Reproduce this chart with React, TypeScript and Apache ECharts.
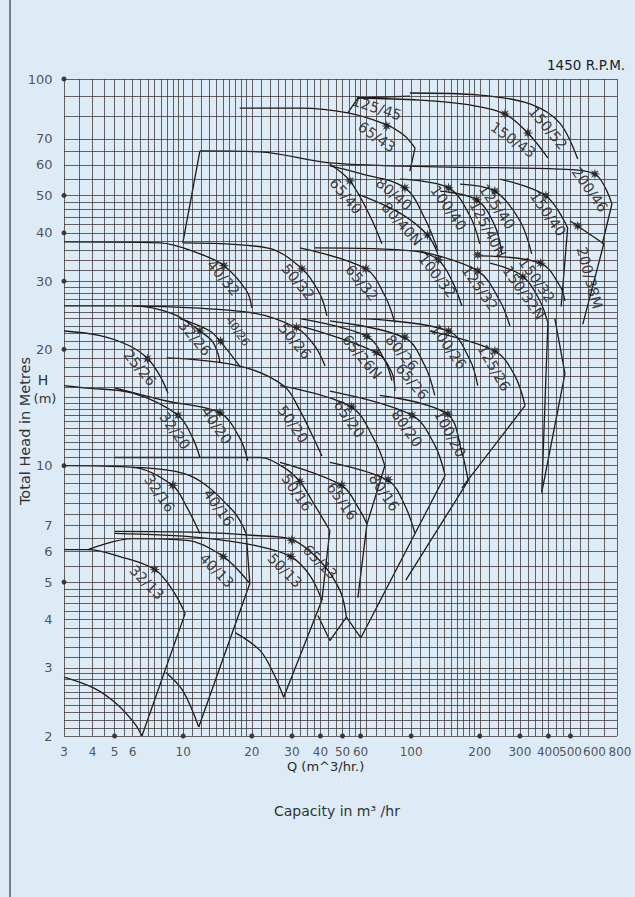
import React, { useEffect, useRef } from "react";
import * as echarts from "echarts";

// ---------- axes / grid ----------
const xTickLabels = [3, 4, 5, 6, 10, 20, 30, 40, 50, 60, 100, 200, 300, 400, 500, 600, 800];
const xTickDots = [5, 10, 20, 30, 40, 50, 60, 100, 200, 300, 400, 500];
const yTickLabels = [100, 70, 60, 50, 40, 30, 20, 10, 7, 6, 5, 4, 3, 2];
const yTickDots = [100, 50, 40, 30, 20, 10, 5];
const gridQ = [3, 3.5, 4, 4.5, 5, 5.5, 6, 6.5, 7, 7.5, 8, 8.5, 9, 9.5, 10, 11, 12, 13, 14, 15, 16, 17, 18, 19, 20, 22, 24, 26, 28, 30, 32.5, 35, 37.5, 40, 43.3, 46.7, 50, 53.3, 56.7, 60, 63.5, 70, 77, 84, 91, 100, 110, 120, 130, 140, 150, 160, 170, 180, 190, 200, 220, 240, 260, 280, 300, 325, 350, 375, 400, 433, 467, 500, 550, 600, 700, 800];
const gridH = [2, 2.1, 2.2, 2.3, 2.4, 2.5, 2.6, 2.7, 2.8, 2.9, 3, 3.2, 3.4, 3.6, 3.8, 4, 4.2, 4.4, 4.6, 4.8, 5, 5.5, 6, 6.5, 7, 7.5, 8, 8.5, 9, 9.5, 10, 10.5, 11, 11.5, 12, 12.5, 13, 13.5, 14, 14.5, 15, 16, 17, 18, 19, 20, 21, 22, 23, 24, 25, 26, 27, 28, 29, 30, 32, 34, 36, 38, 40, 42, 44, 46, 48, 50, 55, 60, 65, 70, 80, 90, 100];

// ---------- pump curves (Q m3/h, H m) ----------
const curve32_13 = [[3, 6.07], [3.82, 6.07], [5.28, 5.82], [7.51, 5.39], [9.0, 4.76], [10.2, 4.15]];
const base32_13 = [[6.59, 2.0], [6.14, 2.15], [5.07, 2.43], [4.06, 2.66], [3, 2.84]];
const edge32_13 = [[10.2, 4.15], [6.59, 2.0]];
const curve40_13 = [[3.82, 6.07], [6.02, 6.48], [10.4, 6.41], [15.0, 5.82], [19.6, 4.96]];
const edge40_13 = [[19.6, 4.96], [11.7, 2.11]];
const base40_13 = [[11.7, 2.11], [9.96, 2.62], [8.4, 2.92]];
const curve50_13 = [[5.02, 6.68], [11.84, 6.52], [20.6, 6.22], [29.7, 5.82], [36.0, 5.2], [40.6, 4.49]];
const edge50_13 = [[40.6, 4.49], [27.6, 2.52]];
const base50_13 = [[27.6, 2.52], [24.8, 2.92], [21.7, 3.33], [16.9, 3.7]];
const curve65_13 = [[5.02, 6.76], [11.84, 6.72], [20.6, 6.6], [29.7, 6.45], [39.8, 5.68], [48.7, 4.76], [52.0, 4.06]];
const base65_13 = [[52.0, 4.06], [44.0, 3.53], [39.0, 4.1]];

const curve32_16 = [[3, 10.0], [6.02, 9.9], [9.0, 8.88], [10.4, 7.79], [11.84, 6.68]];
const curve40_16 = [[6.02, 9.9], [10.7, 9.43], [16.5, 7.66], [18.9, 6.68]];
const edge40_16 = [[18.9, 6.68], [19.6, 4.96]];
const curve50_16 = [[5.02, 10.5], [21.7, 10.5], [27.6, 9.9], [32.5, 9.1], [36.7, 8.13], [44.0, 6.8]];
const edge50_16 = [[44.0, 6.8], [40.6, 4.49]];
const curve65_16 = [[26.6, 10.2], [49.7, 8.88], [59.6, 7.66], [64.0, 7.06]];
const edge65_16 = [[64.0, 7.06], [58.4, 4.56]];
const curve80_16 = [[44.0, 10.2], [79.3, 9.15], [93.9, 7.89], [104, 6.68]];
const edge80_16 = [[104, 6.68], [60.2, 3.59], [52.0, 4.06]];

const curve25_26 = [[3, 22.3], [4.32, 21.7], [5.84, 20.4], [7.0, 18.9], [7.9, 17.1], [8.58, 15.4]];
const curve32_20 = [[3, 16.1], [3.67, 15.9], [6.02, 15.4], [9.5, 13.5], [11.0, 11.8], [11.84, 10.5]];
const curve40_20 = [[5.02, 15.9], [8.45, 14.7], [14.5, 13.7], [17.7, 11.8], [19.2, 10.3]];
const curve50_20 = [[8.45, 19.0], [17.7, 18.1], [27.6, 16.1], [32.5, 13.9], [37.8, 11.6], [40.6, 10.6]];
const curve65_20 = [[26.6, 16.1], [54.5, 14.2], [69.3, 11.6], [76.7, 10.0]];
const edge65_20 = [[76.7, 10.0], [64.0, 7.06]];
const curve80_20 = [[44.0, 15.6], [101, 13.5], [127, 11.3], [141, 9.43]];
const edge80_20 = [[141, 9.43], [104, 6.68]];
const curve100_20 = [[72.9, 15.2], [144, 13.6], [167, 10.8], [178, 9.15]];
const edge100_20 = [[178, 9.15], [94.8, 5.06]];

const curve32_26 = [[3, 25.9], [6.02, 25.9], [9.0, 24.7], [11.84, 22.3], [13.4, 21.0], [14.2, 19.5], [14.5, 18.5]];
const curve40_26 = [[9.67, 24.0], [13.1, 22.3], [14.6, 20.9], [17.7, 18.1]];
const curve50_26 = [[6.02, 25.9], [19.6, 24.9], [31.5, 22.7], [37.8, 20.4], [41.9, 18.1]];
const curve65_26N = [[32.5, 24.0], [64.0, 21.6], [76.7, 18.7], [82.3, 16.6]];
const curve65_26 = [[32.5, 23.0], [70.5, 19.6], [82.3, 17.4], [84.9, 15.6]];
const curve80_26 = [[44.0, 23.7], [93.9, 21.4], [115, 18.1], [127, 15.2]];
const curve100_26 = [[59.6, 24.0], [146, 22.3], [181, 18.8], [196, 16.1]];
const curve125_26 = [[121, 22.3], [233, 19.8], [285, 17.1], [316, 14.3]];
const edge125_26 = [[316, 14.3], [167, 8.76]];

const curve40_32 = [[3, 37.9], [7.9, 37.7], [11.84, 35.3], [15.1, 32.9], [19.0, 28.3], [20.0, 25.6]];
const curve50_32 = [[9.96, 37.7], [23.3, 36.6], [33.2, 32.3], [39.8, 27.8], [42.7, 24.4]];
const curve65_32 = [[32.5, 36.6], [63.3, 32.3], [76.7, 27.5], [84.9, 23.4]];
const curve100_32 = [[37.8, 36.6], [104, 35.9], [132, 34.0], [151, 30.1], [167, 25.9]];
const curve125_32 = [[109, 35.9], [196, 31.9], [245, 26.7], [271, 23.0]];
const curve150_32 = [[200, 34.9], [370, 33.4], [449, 29.2], [473, 26.7]];
const curve150_32N = [[222, 33.4], [309, 30.9], [367, 26.7], [398, 23.4]];
const edge150_32N = [[398, 23.4], [374, 8.52], [473, 17.3], [427, 24.0]];

const edge200_46L = [[9.96, 37.7], [11.84, 65.2]];
const curve200_46 = [[11.84, 65.2], [21.7, 64.8], [44.0, 60.7], [148, 59.2], [449, 58.5], [640, 56.8], [760, 47.5]];
const edge200_46R = [[760, 47.5], [690, 37.5]];
const curve65_40 = [[44.0, 60.3], [53.9, 54.5], [65.9, 44.3], [74.4, 37.5]];
const curve80_40 = [[44.0, 59.6], [58.4, 57.2], [93.9, 52.3], [115, 43.5], [131, 36.0]];
const curve80_40N = [[58.4, 50.4], [89.3, 45.0], [118, 39.5], [131, 35.3]];
const curve100_40 = [[89.3, 55.1], [146, 52.3], [181, 44.3], [200, 37.5]];
const curve125_40 = [[164, 53.5], [233, 51.3], [300, 43.0], [338, 35.3]];
const curve125_40N = [[134, 51.3], [194, 48.7], [233, 41.7], [250, 35.3]];
const curve150_40 = [[245, 55.1], [390, 49.9], [486, 41.2]];
const edge150_40 = [[486, 41.2], [455, 25.8]];
const edge200_38M = [[497, 43.0], [700, 37.5], [566, 23.2]];

const curve65_43 = [[17.7, 84.1], [32.5, 84.1], [52.8, 81.7], [78.1, 76.1], [93.9, 71.2], [104, 66.3]];
const edge65_43 = [[104, 66.3], [98.7, 57.8]];
const edge125_45 = [[52.8, 81.7], [58.4, 89.3], [98.7, 90.3]];
const curve150_43 = [[58.4, 89.3], [109, 88.2], [181, 85.7], [258, 81.2], [325, 72.5], [398, 62.5]];
const curve150_52 = [[98.7, 92.0], [200, 90.9], [332, 86.2], [449, 76.9], [538, 62.1]];

const smoothCurves = [
  curve32_13, base32_13, curve40_13, base40_13, curve50_13, base50_13, curve65_13,
  curve32_16, curve40_16, curve50_16, curve65_16, curve80_16,
  curve25_26, curve32_20, curve40_20, curve50_20, curve65_20, curve80_20, curve100_20,
  curve32_26, curve40_26, curve50_26, curve65_26N, curve65_26, curve80_26, curve100_26, curve125_26,
  curve40_32, curve50_32, curve65_32, curve100_32, curve125_32, curve150_32, curve150_32N,
  curve200_46, curve65_40, curve80_40, curve80_40N, curve100_40, curve125_40, curve125_40N, curve150_40,
  curve65_43, curve150_43, curve150_52,
];
const straightEdges = [
  edge32_13, edge40_13, edge50_13, base65_13, edge40_16, edge50_16, edge65_16, edge80_16,
  edge65_20, edge80_20, edge100_20, edge125_26, edge150_32N,
  edge200_46L, edge200_46R, edge150_40, edge200_38M, edge65_43, edge125_45,
];

// ---------- best efficiency points ----------
const bepQ = [78.1, 258, 325, 640, 53.9, 93.9, 146, 233, 194, 390, 118, 538, 132, 196, 196, 370, 309, 63.3, 15.1, 33.2, 11.84, 14.6, 31.4, 6.97, 9.5, 14.5, 9.0, 32.5, 29.9, 29.7, 15.0, 7.5, 64.0, 70.5, 93.9, 146, 233, 54.8, 101, 145, 49.5, 79.3];
const bepH = [75.6, 81.2, 72.5, 56.8, 54.5, 52.3, 52.3, 51.3, 48.7, 49.9, 39.5, 41.7, 34.1, 35.1, 31.9, 33.4, 30.8, 32.3, 32.9, 32.3, 22.3, 21.0, 22.8, 18.9, 13.5, 13.7, 8.9, 9.1, 6.42, 5.82, 5.82, 5.39, 21.6, 19.6, 21.5, 22.3, 19.8, 14.2, 13.5, 13.6, 8.9, 9.2];

// ---------- pump labels ----------
const labelNames = ["125/45", "65/43", "150/52", "150/43", "200/46", "65/40", "80/40", "80/40N", "100/40", "125/40", "125/40N", "150/40", "200/38M", "40/32", "50/32", "65/32", "100/32", "125/32", "150/32", "150/32N", "32/26", "40/26", "50/26", "65/26N", "80/26", "65/26", "100/26", "125/26", "25/26", "32/20", "40/20", "50/20", "65/20", "80/20", "100/20", "32/16", "40/16", "50/16", "65/16", "80/16", "32/13", "40/13", "50/13", "65/13"];
const labelQ = [70.7, 70.7, 398, 280, 608, 51.7, 84, 91, 146, 238, 217, 398, 606, 15.0, 31.9, 60.8, 130, 200, 356, 312, 11.25, 17.4, 30.9, 60.8, 91, 101, 146, 231, 6.46, 9.19, 14.0, 30.3, 53.4, 95.7, 148, 7.87, 14.3, 31.5, 49.7, 76.0, 6.92, 14.0, 27.9, 39.8];
const labelH = [84.1, 70.8, 74.7, 69.6, 51.7, 49.8, 50.4, 42.2, 46.4, 46.7, 40.9, 44.8, 30.6, 30.6, 29.9, 29.7, 31.0, 28.8, 30.2, 28.0, 21.4, 22.3, 21.0, 19.1, 19.6, 16.5, 20.3, 17.9, 17.9, 12.3, 12.7, 12.8, 13.2, 12.5, 12.1, 8.47, 7.79, 8.52, 8.08, 8.52, 4.99, 5.36, 5.36, 5.64];
const labelAngles = [-18, -35, -50, -35, -55, -50, -40, -48, -55, -55, -62, -55, -75, -50, -50, -50, -52, -55, -55, -55, -50, -55, -50, -50, -50, -50, -55, -60, -50, -55, -55, -55, -55, -55, -62, -55, -55, -55, -55, -55, -45, -45, -45, -45];
const smallLabels = ["40/26"];

const STAR = "path://M0,-10L2,-2L10,0L2,2L0,10L-2,2L-10,0L-2,-2Z M-7,-7L0,-3L7,-7L3,0L7,7L0,3L-7,7L-3,0Z";
const INK = "#1e1818";
const GRIDC = "#3a3030";
const FONT = "DejaVu Sans";

export default function App() {
  const ref = useRef<HTMLDivElement>(null);
  useEffect(() => {
    if (!ref.current) return;
    const chart = echarts.init(ref.current, null, { renderer: "svg" });
    const series: any[] = [];
    series.push({
      type: "line",
      data: [[3, 2]],
      showSymbol: false,
      silent: true,
      lineStyle: { opacity: 0 },
      markLine: {
        silent: true,
        symbol: ["none", "none"],
        label: { show: false },
        lineStyle: { color: GRIDC, width: 0.8, type: "solid", opacity: 0.95 },
        data: [
          ...gridQ.map((v) => ({ xAxis: v })),
          ...gridH.map((v) => ({ yAxis: v })),
        ],
      },
    });
    smoothCurves.forEach((c) =>
      series.push({
        type: "line",
        data: c,
        smooth: 0.35,
        showSymbol: false,
        silent: true,
        lineStyle: { color: INK, width: 1.3 },
      })
    );
    straightEdges.forEach((c) =>
      series.push({
        type: "line",
        data: c,
        smooth: false,
        showSymbol: false,
        silent: true,
        lineStyle: { color: INK, width: 1.3 },
      })
    );
    series.push({
      type: "scatter",
      data: bepQ.map((q, i) => [q, bepH[i]]),
      symbol: STAR,
      symbolSize: 11,
      itemStyle: { color: "#111" },
      silent: true,
    });
    series.push({
      type: "scatter",
      data: labelNames.map((n, i) => ({
        name: n,
        value: [labelQ[i], labelH[i]],
        label: { rotate: labelAngles[i], fontSize: smallLabels.includes(n) ? 11.5 : 14.5 },
      })),
      symbolSize: 1,
      itemStyle: { color: "rgba(0,0,0,0)" },
      silent: true,
      label: {
        show: true,
        position: "inside",
        formatter: (p: any) => p.name,
        fontFamily: FONT,
        color: "#120d0d",
      },
    });
    // axis tick labels
    series.push({
      type: "scatter",
      data: xTickLabels.map((v) => ({
        value: [v, 2],
        label: { offset: v === 600 ? [6, 0] : v === 800 ? [3, 0] : [0, 0] },
      })),
      symbolSize: 1,
      itemStyle: { color: "rgba(0,0,0,0)" },
      silent: true,
      label: {
        show: true,
        position: "bottom",
        distance: 9,
        formatter: (p: any) => String(p.value[0]),
        fontSize: 12,
        fontFamily: FONT,
        color: "#2a2a2a",
      },
    });
    series.push({
      type: "scatter",
      data: yTickLabels.map((v) => [3, v]),
      symbolSize: 1,
      itemStyle: { color: "rgba(0,0,0,0)" },
      silent: true,
      label: {
        show: true,
        position: "left",
        distance: 11,
        formatter: (p: any) => String(p.value[1]),
        fontSize: 13,
        fontFamily: FONT,
        color: "#2a2a2a",
      },
    });
    series.push({
      type: "scatter",
      data: [...xTickDots.map((v) => [v, 2]), ...yTickDots.map((v) => [3, v])],
      symbolSize: 5,
      itemStyle: { color: "#111" },
      silent: true,
    });

    chart.setOption({
      animation: false,
      backgroundColor: "#dcebf6",
      grid: { left: 64, top: 79, right: 18, bottom: 161 },
      xAxis: {
        type: "log",
        logBase: 10,
        min: 3,
        max: 800,
        axisLine: { show: false },
        axisTick: { show: false },
        axisLabel: { show: false },
        splitLine: { show: false },
      },
      yAxis: {
        type: "log",
        logBase: 10,
        min: 2,
        max: 100,
        axisLine: { show: false },
        axisTick: { show: false },
        axisLabel: { show: false },
        splitLine: { show: false },
      },
      graphic: [
        { type: "line", shape: { x1: 10, y1: 0, x2: 10, y2: 897 }, style: { stroke: "#5a5a5a", lineWidth: 1.5 } },
        { type: "text", x: 547, y: 58, style: { text: "1450 R.P.M.", font: `13.5px "${FONT}"`, fill: "#222" } },
        { type: "text", x: 287, y: 760, style: { text: "Q (m^3/hr.)", font: `13px "${FONT}"`, fill: "#2a2a2a" } },
        { type: "text", x: 274, y: 804, style: { text: "Capacity in m³ /hr", font: `14px "${FONT}"`, fill: "#333" } },
        {
          type: "text",
          x: 25,
          y: 431,
          rotation: Math.PI / 2,
          style: { text: "Total Head in Metres", font: `14.5px "${FONT}"`, fill: "#333", textAlign: "center", textVerticalAlign: "middle", align: "center", verticalAlign: "middle" },
        },
        { type: "text", x: 43, y: 380, style: { text: "H", font: `14px "${FONT}"`, fill: "#333", textAlign: "center", textVerticalAlign: "middle", align: "center", verticalAlign: "middle" } },
        { type: "text", x: 45, y: 398, style: { text: "(m)", font: `13px "${FONT}"`, fill: "#333", textAlign: "center", textVerticalAlign: "middle", align: "center", verticalAlign: "middle" } },
      ],
      series,
    });
    return () => chart.dispose();
  }, []);
  return <div ref={ref} style={{ position: "absolute", left: 0, top: 0, width: 635, height: 897 }} />;
}
